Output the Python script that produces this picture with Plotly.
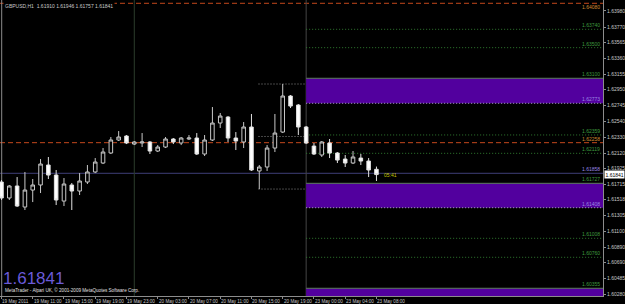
import plotly.graph_objects as go

# ---------------- data ----------------
bar_index = list(range(49))  # H1 bars from 19 May 2011 07:00
open_ = [1.61744, 1.61535, 1.61692, 1.61417, 1.61639, 1.61705, 1.61966, 1.61835, 1.61495, 1.61705,
         1.61626, 1.61744, 1.61875, 1.61992, 1.62123, 1.62293, 1.62345, 1.62240, 1.62254, 1.62267,
         1.62149, 1.62201, 1.62306, 1.62254, 1.62306, 1.62319, 1.62110, 1.62293, 1.62515, 1.62593,
         1.62319, 1.62267, 1.62463, 1.61888, 1.61940, 1.62188, 1.62397, 1.62868, 1.62750, 1.62463,
         1.62214, 1.62097, 1.62254, 1.62123, 1.62044, 1.61992, 1.62057, 1.62018, 1.61910]
high = [1.61770, 1.61705, 1.61809, 1.61875, 1.61783, 1.62044, 1.62071, 1.61901, 1.61796, 1.61731,
        1.61861, 1.61966, 1.62057, 1.62188, 1.62332, 1.62410, 1.62358, 1.62280, 1.62384, 1.62280,
        1.62227, 1.62332, 1.62319, 1.62332, 1.62358, 1.62384, 1.62358, 1.62724, 1.62646, 1.62606,
        1.62397, 1.62528, 1.62633, 1.61966, 1.62227, 1.62633, 1.63025, 1.62881, 1.62763, 1.62476,
        1.62254, 1.62280, 1.62306, 1.62136, 1.62097, 1.62149, 1.62110, 1.62057, 1.61946]
low = [1.61509, 1.61509, 1.61417, 1.61378, 1.61482, 1.61600, 1.61783, 1.61443, 1.61430, 1.61378,
       1.61574, 1.61718, 1.61861, 1.61979, 1.62110, 1.62280, 1.62240, 1.62227, 1.62201, 1.62110,
       1.62136, 1.62188, 1.62240, 1.62227, 1.62293, 1.62097, 1.62084, 1.62280, 1.62450, 1.62267,
       1.62162, 1.62188, 1.61888, 1.61652, 1.61888, 1.62136, 1.62384, 1.62711, 1.62358, 1.62240,
       1.62097, 1.62071, 1.62057, 1.61992, 1.61940, 1.61979, 1.61966, 1.61809, 1.61757]
close = [1.61535, 1.61692, 1.61430, 1.61639, 1.61705, 1.61979, 1.61835, 1.61509, 1.61718, 1.61626,
         1.61757, 1.61875, 1.62005, 1.62136, 1.62293, 1.62332, 1.62254, 1.62267, 1.62267, 1.62149,
         1.62201, 1.62306, 1.62267, 1.62319, 1.62319, 1.62110, 1.62293, 1.62515, 1.62606, 1.62319,
         1.62280, 1.62463, 1.61901, 1.61940, 1.62188, 1.62384, 1.62868, 1.62737, 1.62463, 1.62254,
         1.62110, 1.62267, 1.62123, 1.62031, 1.61992, 1.62071, 1.62018, 1.61901, 1.61841]

time_tick_index = [0, 4, 8, 12, 16, 20, 24, 28, 32, 36, 40, 44, 48]
time_tick_labels = ["19 May 2011", "19 May 11:00", "19 May 15:00", "19 May 19:00", "19 May 23:00",
                    "20 May 03:00", "20 May 07:00", "20 May 11:00", "20 May 15:00", "20 May 19:00",
                    "23 May 00:00", "23 May 04:00", "23 May 08:00"]
price_ticks = [1.63980, 1.63770, 1.63565, 1.63360, 1.63155, 1.62950, 1.62745, 1.62540, 1.62330,
               1.62120, 1.61925, 1.61715, 1.61518, 1.61305, 1.61100, 1.60890, 1.60690, 1.60485, 1.60280]
price_tick_labels = ["%.5f" % v for v in price_ticks]

symbol_title = "GBPUSD,H1  1.61910 1.61946 1.61757 1.61841"
last_price = 1.61841
countdown = "05:41"

green_levels = [1.63740, 1.63500, 1.62359, 1.62119, 1.61008, 1.60760]
zone_tops = [1.63100, 1.61727, 1.60355]
zone_bottoms = [1.62773, 1.61408, 1.60150]
orange_levels = [1.64080, 1.62258]
slate_level = 1.61858

range_start, range_end = 33, 39
range_high, range_mid, range_low = 1.63025, 1.62339, 1.61652
day_separator = 17

X_MIN, X_MAX = -0.19, 77.0
Y_MIN, Y_MAX = 1.60254, 1.64123

# ---------------- figure ----------------
fig = go.Figure()
fig.add_trace(go.Candlestick(
    x=bar_index, open=open_, high=high, low=low, close=close,
    increasing=dict(line=dict(color="#c8c8c8", width=1), fillcolor="#000000"),
    decreasing=dict(line=dict(color="#e0e0e0", width=1), fillcolor="#ffffff"),
    whiskerwidth=0, showlegend=False, hoverinfo="skip"))

shapes = []
# purple zones
for top, bot in zip(zone_tops, zone_bottoms):
    shapes.append(dict(type="rect", xref="x", yref="y", x0=range_end, x1=X_MAX, y0=bot, y1=top,
                       fillcolor="#52009e", line=dict(width=0), layer="below"))
    shapes.append(dict(type="line", xref="x", yref="y", x0=range_end, x1=X_MAX, y0=top, y1=top,
                       line=dict(color="#5d7d5d", width=1), layer="below"))
    shapes.append(dict(type="line", xref="x", yref="y", x0=range_end, x1=X_MAX, y0=bot, y1=bot,
                       line=dict(color="#b0a8c8", width=1, dash="1px,2px"), layer="below"))
# green dotted levels
for lv in green_levels:
    shapes.append(dict(type="line", xref="x", yref="y", x0=range_end, x1=X_MAX, y0=lv, y1=lv,
                       line=dict(color="#2f7a2f", width=1, dash="1px,2px"), layer="below"))
# orange dashed levels
for lv in orange_levels:
    shapes.append(dict(type="line", xref="paper", yref="y", x0=0, x1=1, y0=lv, y1=lv,
                       line=dict(color="#c4481c", width=1, dash="5px,3px"), layer="below"))
# slate line
shapes.append(dict(type="line", xref="paper", yref="y", x0=0, x1=1, y0=slate_level, y1=slate_level,
                   line=dict(color="#3f3f78", width=1), layer="below"))
# previous range box (high/mid/low dotted)
for lv in (range_high, range_mid, range_low):
    shapes.append(dict(type="line", xref="x", yref="y", x0=range_start - 0.1, x1=range_end, y0=lv, y1=lv,
                       line=dict(color="#8a8a8a", width=1, dash="1px,2px"), layer="below"))
# vertical lines
shapes.append(dict(type="line", xref="x", yref="paper", x0=range_end, x1=range_end, y0=0, y1=1,
                   line=dict(color="#454545", width=1), layer="below"))
shapes.append(dict(type="line", xref="x", yref="paper", x0=day_separator, x1=day_separator, y0=0, y1=1,
                   line=dict(color="#2c3c2c", width=1), layer="below"))
shapes.append(dict(type="line", xref="paper", yref="paper", x0=0.0028, x1=0.0028, y0=0, y1=1,
                   line=dict(color="#8c8c8c", width=1), layer="below"))

annotations = []
small = dict(family="Liberation Sans, Arial, sans-serif", size=5)
tiny = dict(family="Liberation Sans, Arial, sans-serif", size=4.6)
# time axis labels (left aligned to tick like MT4)
for idx, lab in zip(time_tick_index, time_tick_labels):
    annotations.append(dict(x=idx, xref="x", y=0, yref="paper", text=lab, showarrow=False,
                            xanchor="left", yanchor="top", yshift=-1, xshift=-1,
                            font=dict(tiny, color="#c8c8c8")))
# level labels
for lv in green_levels + zone_tops:
    annotations.append(dict(x=1, xref="paper", y=lv, yref="y", text="%.5f" % lv, showarrow=False,
                            xanchor="right", yanchor="bottom", xshift=-1, yshift=-1,
                            font=dict(small, color="#3f9a3f")))
for lv in zone_bottoms[:2] + [slate_level]:
    annotations.append(dict(x=1, xref="paper", y=lv, yref="y", text="%.5f" % lv, showarrow=False,
                            xanchor="right", yanchor="bottom", xshift=-1, yshift=-1,
                            font=dict(small, color="#9a86e0")))
annotations.append(dict(x=1, xref="paper", y=orange_levels[0], yref="y", text="%.5f" % orange_levels[0],
                        showarrow=False, xanchor="right", yanchor="top", xshift=-1, yshift=1,
                        font=dict(small, color="#d08a30")))
annotations.append(dict(x=1, xref="paper", y=orange_levels[1], yref="y", text="%.5f" % orange_levels[1],
                        showarrow=False, xanchor="right", yanchor="bottom", xshift=-1, yshift=-1,
                        font=dict(small, color="#d08a30")))
# current price box
annotations.append(dict(x=1, xref="paper", y=last_price, yref="y", text="%.5f" % last_price,
                        showarrow=False, xanchor="left", yanchor="middle", xshift=1,
                        bgcolor="#ffffff", borderpad=0.5, font=dict(small, color="#000000")))
# countdown
annotations.append(dict(x=bar_index[-1], xref="x", y=last_price, yref="y", text=countdown,
                        showarrow=False, xanchor="left", yanchor="middle", xshift=6,
                        font=dict(small, color="#c8c800")))
# title
annotations.append(dict(x=0, xref="paper", y=1, yref="paper", text=symbol_title, showarrow=False,
                        xanchor="left", yanchor="top", xshift=3, yshift=-1, bgcolor="#000000",
                        font=dict(small, color="#c8c8c8")))
# big price label
annotations.append(dict(x=0, xref="paper", y=0, yref="paper", text="%.5f" % last_price, showarrow=False,
                        xanchor="left", yanchor="bottom", xshift=1, yshift=6,
                        font=dict(family="Liberation Sans Narrow, Liberation Sans, Arial, sans-serif",
                                  size=17, color="#6a5ad8")))
# copyright
annotations.append(dict(x=0, xref="paper", y=0, yref="paper",
                        text="MetaTrader - Alpari UK, © 2001-2009 MetaQuotes Software Corp.",
                        showarrow=False, xanchor="left", yanchor="bottom", xshift=3, yshift=1,
                        font=dict(tiny, color="#e0e0e0")))

fig.update_layout(
    width=625, height=304,
    margin=dict(l=0, r=19, t=0, b=8),
    paper_bgcolor="#000000", plot_bgcolor="#000000",
    showlegend=False, boxgap=0.35,
    shapes=shapes, annotations=annotations,
    xaxis=dict(range=[X_MIN, X_MAX], showgrid=False, zeroline=False, rangeslider=dict(visible=False),
               tickvals=time_tick_index, showticklabels=False, ticks="outside", ticklen=2,
               tickcolor="#8c8c8c", showline=True, linecolor="#8c8c8c", linewidth=1),
    yaxis=dict(range=[Y_MIN, Y_MAX], side="right", showgrid=False, zeroline=False,
               tickvals=price_ticks, ticktext=price_tick_labels, ticks="outside", ticklen=2,
               tickcolor="#8c8c8c", showline=True, linecolor="#8c8c8c", linewidth=1,
               tickfont=dict(small, color="#c8c8c8")),
)

fig.write_html("out.html")
